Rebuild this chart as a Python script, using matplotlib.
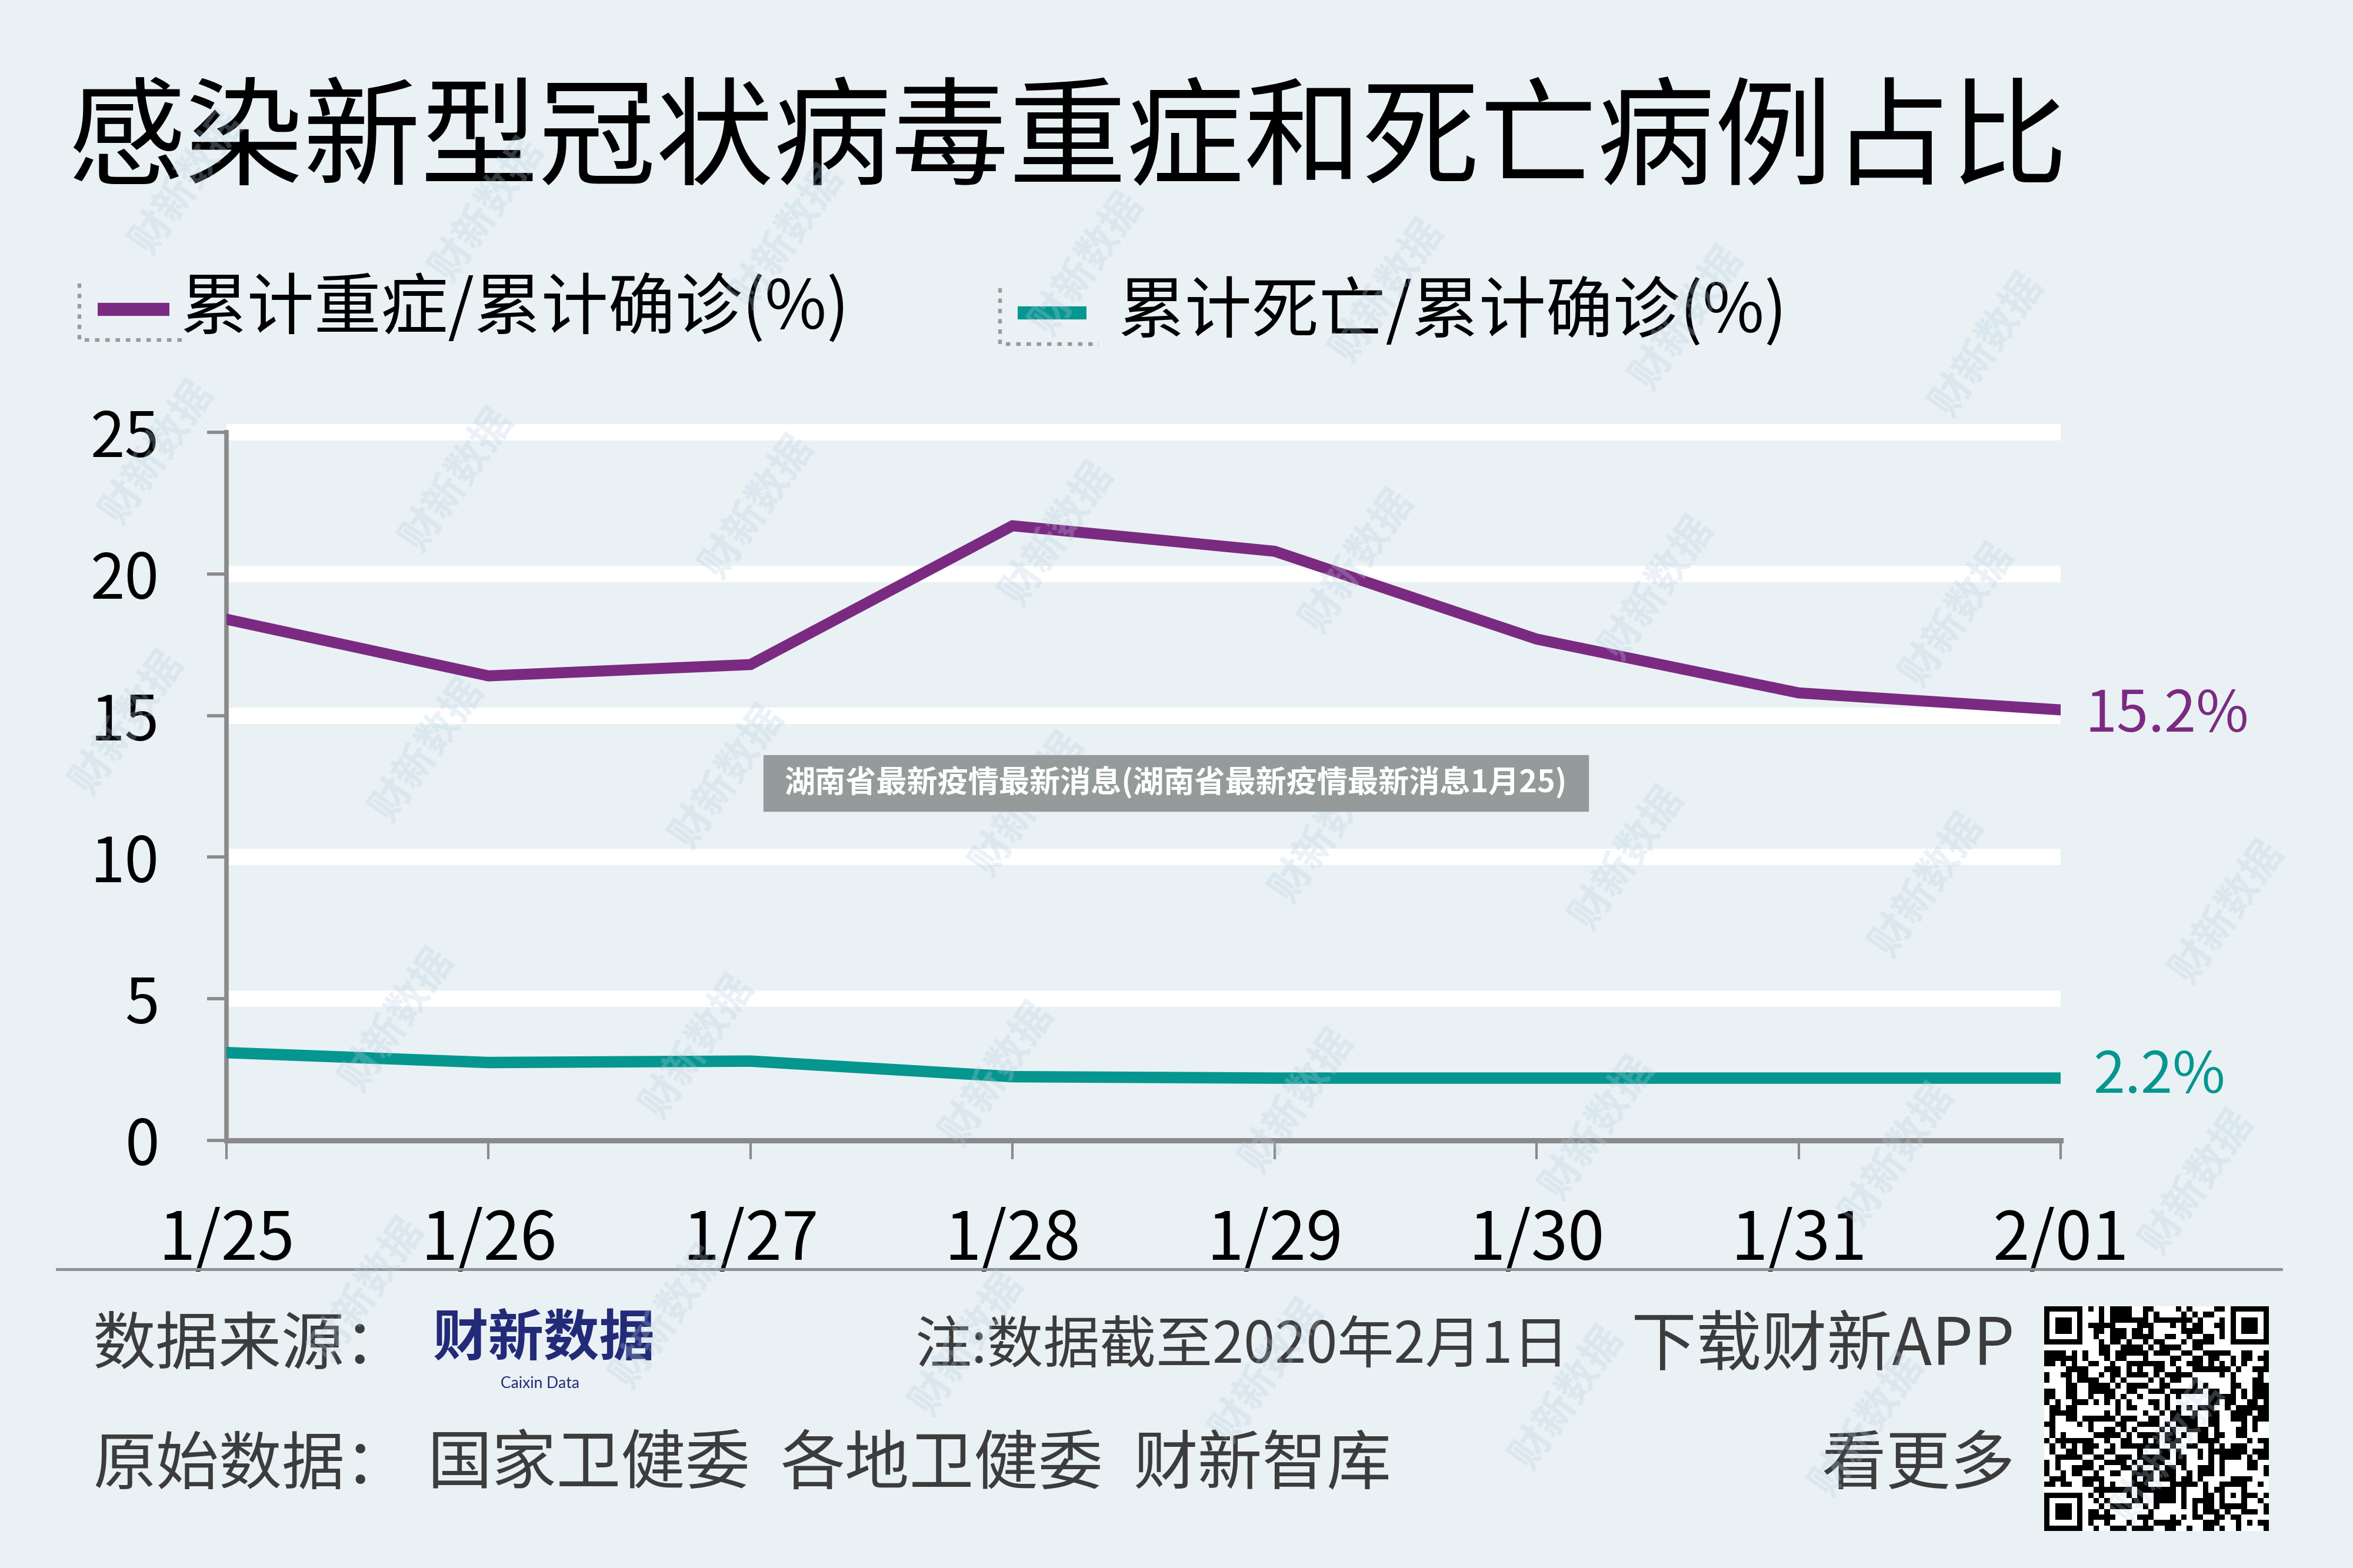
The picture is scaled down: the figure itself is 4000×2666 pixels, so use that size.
import numpy as np
import matplotlib
matplotlib.use('Agg')  # no UI backend
import matplotlib.pyplot as plt
from matplotlib.patches import Rectangle

plt.rcParams['font.family'] = ['Noto Sans CJK SC', 'DejaVu Sans']

# data
dates = ['1/25', '1/26', '1/27', '1/28', '1/29', '1/30', '1/31', '2/01']
severe_pct = [18.4, 16.4, 16.8, 21.7, 20.8, 17.7, 15.8, 15.2]
death_pct = [3.1, 2.75, 2.8, 2.25, 2.2, 2.2, 2.2, 2.2]
yticks = [0, 5, 10, 15, 20, 25]

title = '感染新型冠状病毒重症和死亡病例占比'
legend_labels = ['累计重症/累计确诊(%)', '累计死亡/累计确诊(%)']
sources = ['国家卫健委', '各地卫健委', '财新智库']
banner = '湖南省最新疫情最新消息(湖南省最新疫情最新消息1月25)'

BG = '#e9f1f4'
PURPLE = '#7b2a82'
TEAL = '#05968f'
GRAY = '#8a8a8a'
NAVY = '#232a78'
FOOT = '#3c3c3c'

W, H = 4000, 2666
fig = plt.figure(figsize=(W / 100, H / 100), dpi=100)
fig.patch.set_facecolor(BG)


def fx(px):
    return px / W


def fy(py):
    return 1 - py / H


# main chart
ax = fig.add_axes([fx(385), fy(1939), fx(3503) - fx(385), fy(735) - fy(1939)])
ax.set_facecolor('none')
x = np.arange(len(dates))
ax.set_xlim(0, len(dates) - 1)
ax.set_ylim(0, 25)

for v in yticks[1:]:
    ax.axhline(v, color='white', lw=20, zorder=1, clip_on=False, solid_capstyle='butt')

ax.plot(x, severe_pct, color=PURPLE, lw=13.5, zorder=3, solid_joinstyle='miter')
ax.plot(x, death_pct, color=TEAL, lw=14, zorder=3, solid_joinstyle='miter')

for s in ['top', 'right']:
    ax.spines[s].set_visible(False)
ax.spines['left'].set_color(GRAY)
ax.spines['left'].set_linewidth(5.5)
ax.spines['bottom'].set_color(GRAY)
ax.spines['bottom'].set_linewidth(6.5)

ax.set_yticks(yticks)
ax.set_yticklabels([str(v) for v in yticks], fontweight='light')
ax.set_xticks(x)
ax.set_xticklabels(dates, fontweight='light')
ax.tick_params(axis='y', length=24, width=4, color=GRAY, pad=58, labelsize=76)
ax.tick_params(axis='x', length=23, width=3, color=GRAY, pad=58, labelsize=81)

ax.annotate(f'{severe_pct[-1]}%', xy=(x[-1], severe_pct[-1]), xytext=(30, -7),
            textcoords='offset points', ha='left', va='center', color=PURPLE,
            fontsize=70, fontweight='light', annotation_clip=False)
ax.annotate(f'{death_pct[-1]}%', xy=(x[-1], death_pct[-1]), xytext=(40, 2),
            textcoords='offset points', ha='left', va='center', color=TEAL,
            fontsize=70, fontweight='light', annotation_clip=False)

# overlay in pixel coordinates for title, legend, footer
ov = fig.add_axes([0, 0, 1, 1])
ov.set_zorder(5)
ov.patch.set_alpha(0)
ov.axis('off')

ov.text(115, 242, title, fontsize=144, color='black', ha='left', va='center')

# legend keys with dotted corner box
for (x0, lx0, lx1, ly, bx1, top, bot), tx, col, lab in zip(
        [(135, 166, 288, 526, 310, 482, 578), (1700, 1730, 1847, 532, 1868, 490, 585)],
        [306, 1900], [PURPLE, TEAL], legend_labels):
    ov.plot([x0, x0, bx1], [top, bot, bot], color='#9a9a9a', lw=4.5, ls=(0, (1.2, 1.6)))
    ov.plot([lx0, lx1], [ly, ly], color=col, lw=16, solid_capstyle='butt')
    ov.text(tx, ly, lab, fontsize=82, color='black', ha='left', va='center')

# divider
ov.plot([97, 3878], [2158, 2158], color='#8c9194', lw=3.5)

# footer
ov.text(158, 2289, '数据来源：', fontsize=77, color=FOOT, ha='left', va='center')
ov.text(925, 2278, '财新数据', fontsize=68, color=NAVY, fontweight='bold',
        ha='center', va='center')
ov.text(918, 2352, 'Caixin Data', fontsize=19, color=NAVY, ha='center', va='center',
        family=['Lato', 'DejaVu Sans'])
ov.text(1556, 2289, '注:数据截至2020年2月1日', fontsize=69, color=FOOT, ha='left', va='center')
ov.text(3426, 2289, '下载财新APP', fontsize=80, color=FOOT, ha='right', va='center')
ov.text(158, 2492, '原始数据：', fontsize=77, color=FOOT, ha='left', va='center')
for sx, src in zip([727, 1327, 1926], sources):
    ov.text(sx, 2492, src, fontsize=79, color=FOOT, ha='left', va='center')
ov.text(3426, 2492, '看更多', fontsize=79, color=FOOT, ha='right', va='center')

# QR-like block
n = 41
qr = np.zeros((n, n))
r, c = np.indices((n, n))
qr[:] = (((r // 2) + (c // 3) + (r * c) % 7) % 2 == 0) ^ (((r + 2 * c) % 5) == 0)


def finder(rr, cc):
    qr[max(rr - 1, 0):rr + 8, max(cc - 1, 0):cc + 8] = 0
    qr[rr:rr + 7, cc:cc + 7] = 1
    qr[rr + 1:rr + 6, cc + 1:cc + 6] = 0
    qr[rr + 2:rr + 5, cc + 2:cc + 5] = 1


finder(0, 0)
finder(0, n - 7)
finder(n - 7, 0)
qr[32:37, 32:37] = 1
qr[33:36, 33:36] = 0
qr[34, 34] = 1
ov.imshow(qr, cmap='gray_r', extent=(3475, 3857, 2603, 2221), interpolation='nearest',
          vmin=0, vmax=1, zorder=4)
ov.set_aspect('auto')
ov.set_xlim(0, W)
ov.set_ylim(H, 0)

# watermarks
for i in range(-4, 10):
    for j in range(-2, 6):
        wx = 778 + 510 * i - 51 * j
        wy = 816 + 46 * i + 459 * j
        if 180 < wx < W - 180 and 180 < wy < H - 180:
            ov.text(wx, wy, '财新数据', rotation=55, fontsize=50, fontweight='bold',
                    color='#b7cde0', alpha=0.28, ha='center', va='center', zorder=6)

# overlay banner
ov.add_patch(Rectangle((1298, 1284), 1402, 95, color='#959b9b', zorder=10))
ov.text(1999, 1331, banner, fontsize=37.5, fontweight='bold', color='white',
        ha='center', va='center', zorder=11)

fig.savefig('out.png', dpi=100, facecolor=BG)
